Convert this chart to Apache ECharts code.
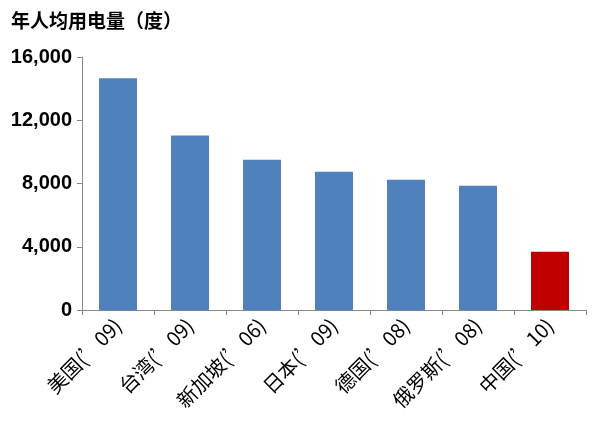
<!DOCTYPE html>
<html><head><meta charset="utf-8">
<script src="https://cdn.jsdelivr.net/npm/echarts@6/dist/echarts.min.js"></script>
<style>body{margin:0}#c{width:600px;height:437px}</style></head>
<body><div id="c"></div>
<script>
var categories = ["美国(’09)", "台湾(’09)", "新加坡(’06)", "日本(’09)", "德国(’08)", "俄罗斯(’08)", "中国(’10)"];
var values = [14650, 11030, 9500, 8750, 8240, 7860, 3680];
var barColors = ["#4F81BD", "#4F81BD", "#4F81BD", "#4F81BD", "#4F81BD", "#4F81BD", "#C00000"];

var chart = echarts.init(document.getElementById('c'));
chart.setOption({
    animation: false,
    title: {
        text: '年人均用电量（度）', left: 6, top: 6,
        textStyle: { fontSize: 19, fontWeight: 'bold', color: '#000', fontFamily: 'Noto Sans CJK SC' }
    },
    grid: { left: 82, right: 14, top: 57, bottom: 127 },
    xAxis: {
        type: 'category',
        data: categories,
        axisLine: { lineStyle: { color: '#888' } },
        axisTick: { show: true, alignWithLabel: false, length: 5, lineStyle: { color: '#888' } },
        axisLabel: { rotate: 45, interval: 0, fontSize: 20, color: '#000', fontFamily: 'Noto Sans CJK SC', margin: 12 }
    },
    yAxis: {
        type: 'value', min: 0, max: 16000, interval: 4000,
        splitLine: { show: false },
        axisLine: { show: true, lineStyle: { color: '#888' } },
        axisTick: { show: true, length: 5, lineStyle: { color: '#888' } },
        axisLabel: {
            fontSize: 20, fontWeight: 'bold', color: '#000', fontFamily: 'Liberation Sans', margin: 10,
            formatter: function (v) { return v.toLocaleString('en-US'); }
        }
    },
    series: [{
        type: 'bar',
        barWidth: 38,
        data: values.map(function (v, i) { return { value: v, itemStyle: { color: barColors[i] } }; })
    }]
});
</script></body></html>
